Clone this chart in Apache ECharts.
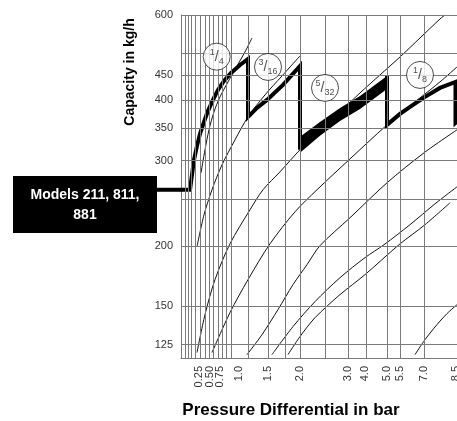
<!DOCTYPE html>
<html>
<head>
<meta charset="utf-8">
<script src="https://cdn.jsdelivr.net/npm/echarts/dist/echarts.min.js"></script>
<style>
  body { margin: 0; background: #fff; }
  #main { width: 457px; height: 421px; }
</style>
</head>
<body>
<div id="main"></div>
<script>
// x is the chart's own (uneven) pressure scale, in units of the printed grid
var xTickPos = [6, 9.5, 13, 19.33, 28.83, 39.67, 55.67, 61.33, 68.5, 73, 81, 91.67];
var xTickLabels = ['0.25', '0.50', '0.75', '1.0', '1.5', '2.0', '3.0', '4.0', '5.0', '5.5', '7.0', '8.5'];
var xGridPos = [1.33, 2.43, 3.57, 4.67, 6.33, 8, 9.33, 10.77, 12.43, 13.9, 15.23, 16.67,
                22.33, 29.1, 34.67, 39.83, 48, 55.67, 61.67, 68.67, 73, 81];
var yGridVals = [125, 150, 200, 250, 300, 350, 400, 450, 500, 600];
var yTickVals = [125, 150, 200, 300, 350, 400, 450, 600];

// thick capacity line of models 211, 811, 881  [x, kg/h]
var modelLineA = [[0, 261.2], [3, 261.2], [3.67, 280.5], [4.33, 301.2], [5.33, 321.9], [6.33, 340.8],
                  [7.67, 360.8], [9, 380.2], [10.67, 400.6], [12.33, 420.1], [14.33, 438.4], [16.67, 455.4],
                  [19.67, 473.1], [22.33, 486.8], [22.33, 369.5], [25.33, 385.6], [28.67, 400.6],
                  [34, 430.2], [39.67, 470.8], [39.67, 315.9]];
var bandX = [39.67, 46.33, 53, 59.67, 68.67];
var bandTop = [336.0, 360.8, 385.6, 408.3, 449.0];
var bandBottom = [311.4, 337.6, 362.5, 383.8, 422.1];
var modelLineB = [[68.67, 449.0], [68.67, 355.7], [73, 374.8], [77.33, 391.2], [81.33, 406.4],
                  [86.33, 424.1], [91.5, 436.4], [91.5, 359.1], [96.33, 382.0]];

// thin orifice curves, left to right
var orifice1 = [[6.67, 283.2], [8, 315.9], [9.33, 347.4], [11, 378.4], [13, 406.4], [15.67, 436.4],
                [18.67, 470.8], [21.33, 503.2], [23.67, 537.9]];
var orifice2 = [[5.33, 199.2], [7.67, 231.9], [10.33, 261.2], [13.67, 294.1], [18, 331.2], [22.33, 369.5],
                [28, 410.2], [33.67, 449.0], [39.67, 493.8]];
var orifice3 = [[5.33, 120.4], [8, 144.2], [11.33, 170.3], [16.33, 202.0], [23, 237.5], [27.33, 261.2],
                [33, 284.5], [39.67, 315.9], [46.33, 345.7], [53, 378.4], [59.67, 414.1], [66.33, 451.1],
                [73, 491.4], [79.67, 537.9], [86.33, 588.7], [88, 600]];
var orifice4 = [[10.33, 120.4], [16.33, 145.6], [22.33, 170.3], [29.67, 202.0], [38, 235.2], [45.33, 261.2],
                [56, 301.2], [68.67, 355.7], [74.67, 382.0], [79.67, 404.4], [86.33, 436.4], [92, 468.6]];
var orifice5 = [[22, 119.2], [27, 131.1], [32.33, 147.7], [37.33, 166.3], [42, 182.9], [46.33, 200.2],
                [56.33, 228.6], [68.67, 270.0], [81, 311.4], [92, 347.4]];
var orifice6 = [[30.33, 119.2], [37.33, 136.2], [44.67, 153.4], [53, 171.9], [61.33, 189.1], [67.67, 201.1],
                [76.33, 221.2], [84.67, 244.3], [92, 264.9]];
var orifice7 = [[35.67, 119.2], [39.67, 129.9], [44.67, 142.1], [53, 158.6], [61.33, 174.4], [72.67, 201.1],
                [81.33, 221.2], [89.67, 245.5]];
var orifice8 = [[78, 119.2], [81.33, 128.0], [85.33, 137.5], [88.67, 144.9], [92, 151.2]];

// orifice size tags
var tagPos = [[11.9, 492.1], [29, 468.6], [48, 424.1], [79.67, 451.1]];
var tagNum = ['1', '3', '5', '1'];
var tagDen = ['4', '16', '32', '8'];

var FONT = '"Liberation Sans", Arial, Helvetica, sans-serif';
var myChart = echarts.init(document.getElementById('main'));

function thin(data) {
    return {
        type: 'line', data: data, symbol: 'none', smooth: 0.3, silent: true,
        lineStyle: { color: '#111', width: 1 }, z: 3
    };
}
function thick(data) {
    return {
        type: 'line', data: data, symbol: 'none', silent: true,
        lineStyle: { color: '#000', width: 4, join: 'miter', cap: 'butt' }, z: 4
    };
}

// the ticks are packed tightly at the left, so alternate labels go on two overlaid axes
function xAxisPart(parity, showLine) {
    return {
        type: 'value', min: 0, max: 92, position: 'bottom', offset: 0,
        axisLine: { show: showLine, lineStyle: { color: '#7a7a7a', width: 1 } },
        axisTick: { show: false },
        splitLine: { show: false },
        axisLabel: {
            customValues: xTickPos.filter(function (v, i) { return i % 2 === parity; }),
            rotate: 90, margin: 8, hideOverlap: false,
            fontSize: 11, color: '#333', fontFamily: FONT,
            formatter: function (v) { return xTickLabels[xTickPos.indexOf(v)]; }
        }
    };
}

var gridLines = xGridPos.map(function (v) { return { xAxis: v }; })
    .concat(yGridVals.map(function (v) { return { yAxis: v }; }));

var series = [
    {
        type: 'line', data: orifice8, symbol: 'none', smooth: 0.3, silent: true,
        lineStyle: { color: '#111', width: 1 }, z: 3,
        markLine: {
            silent: true, symbol: ['none', 'none'], label: { show: false },
            lineStyle: { type: 'solid', color: '#7a7a7a', width: 1 },
            emphasis: { disabled: true },
            data: gridLines
        }
    },
    thin(orifice1), thin(orifice2), thin(orifice3), thin(orifice4),
    thin(orifice5), thin(orifice6), thin(orifice7),
    thick(modelLineA), thick(modelLineB),
    {
        type: 'custom', silent: true, z: 4,
        data: [[bandX[0], bandTop[0]]],
        renderItem: function (params, api) {
            var pts = [];
            for (var i = 0; i < bandX.length; i++) pts.push(api.coord([bandX[i], bandTop[i]]));
            for (var j = bandX.length - 1; j >= 0; j--) pts.push(api.coord([bandX[j], bandBottom[j]]));
            return { type: 'polygon', shape: { points: pts }, style: { fill: '#000' } };
        }
    },
    {
        type: 'scatter', silent: true, z: 6,
        symbol: 'circle', symbolSize: 27,
        itemStyle: { color: '#fff', borderColor: '#222', borderWidth: 1 },
        data: tagPos.map(function (p, i) {
            return { value: p, label: { formatter: '{n|' + tagNum[i] + '}{s|/}{d|' + tagDen[i] + '}' } };
        }),
        label: {
            show: true, position: 'inside', color: '#222', fontFamily: FONT,
            rich: {
                n: { fontSize: 9, lineHeight: 10, verticalAlign: 'top', fontFamily: FONT, color: '#222' },
                s: { fontSize: 14, lineHeight: 18, fontFamily: FONT, color: '#222' },
                d: { fontSize: 9, lineHeight: 10, verticalAlign: 'bottom', fontFamily: FONT, color: '#222' }
            }
        }
    }
];

var option = {
    animation: false,
    grid: { left: 181, top: 15, right: 0, bottom: 63, containLabel: false, outerBoundsMode: 'none' },
    xAxis: [xAxisPart(0, true), xAxisPart(1, false)],
    yAxis: {
        type: 'log', logBase: 10, min: 117.3, max: 600,
        axisLine: { show: true, lineStyle: { color: '#7a7a7a', width: 1 } },
        axisTick: { show: false },
        splitLine: { show: false },
        axisLabel: {
            customValues: yTickVals, margin: 8,
            fontSize: 11, color: '#333', fontFamily: FONT
        }
    },
    graphic: [
        {
            type: 'text', x: 130, y: 72, rotation: Math.PI / 2,
            style: {
                text: 'Capacity in kg/h', fill: '#000', font: 'bold 14px ' + FONT,
                textAlign: 'center', textVerticalAlign: 'middle'
            }
        },
        {
            type: 'text', x: 291, y: 410,
            style: {
                text: 'Pressure Differential in bar', fill: '#000', font: 'bold 17px ' + FONT,
                textAlign: 'center', textVerticalAlign: 'middle'
            }
        },
        {
            type: 'rect', shape: { x: 13, y: 176, width: 144, height: 57 },
            style: { fill: '#000' }, z: 10
        },
        {
            type: 'text', x: 85, y: 205, z: 11,
            style: {
                text: 'Models 211, 811,\n881', fill: '#fff', font: 'bold 14px ' + FONT,
                textAlign: 'center', textVerticalAlign: 'middle', lineHeight: 20
            }
        }
    ],
    series: series
};

myChart.setOption(option);

// leader from the models box to where the thick line starts
var start = myChart.convertToPixel({ gridIndex: 0 }, modelLineA[0]);
option.graphic.push({
    type: 'line', z: 9,
    shape: { x1: 157, y1: start[1], x2: start[0] + 1, y2: start[1] },
    style: { stroke: '#000', lineWidth: 4 }
});
myChart.setOption(option, true);
</script>
</body>
</html>
